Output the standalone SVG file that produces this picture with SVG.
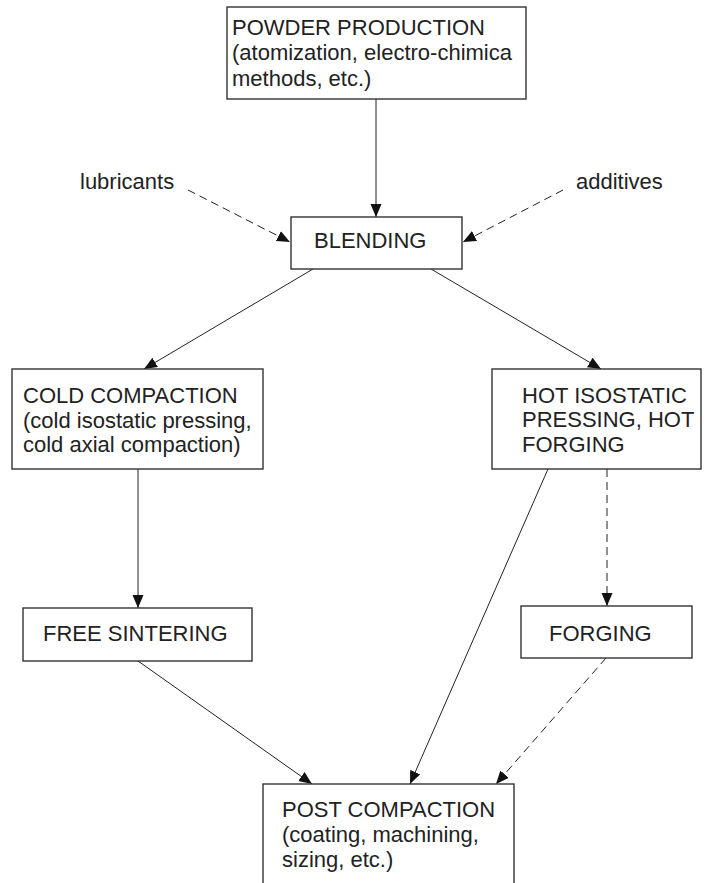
<svg xmlns="http://www.w3.org/2000/svg" width="710" height="883" viewBox="0 0 710 883">
<style>
.box{fill:#fff;stroke:#333;stroke-width:1.4}
.t{font-family:"Liberation Sans",Arial,sans-serif;font-size:22px;fill:#222}
.c{fill:none;stroke:#222;stroke-width:1}
.d{stroke-dasharray:8 5}
</style>
<defs>
<marker id="ah" markerUnits="userSpaceOnUse" markerWidth="14" markerHeight="12" refX="13" refY="5.5" orient="auto">
<path d="M0,0 L13,5.5 L0,11 z" fill="#111"/>
</marker>
</defs>
<rect width="710" height="883" fill="#fff"/>
<g id="connectors">
<line class="c" x1="376" y1="99" x2="376" y2="217" marker-end="url(#ah)"/>
<line class="c d" x1="188" y1="190" x2="290" y2="242" marker-end="url(#ah)"/>
<line class="c d" x1="563" y1="190" x2="463" y2="242" marker-end="url(#ah)"/>
<line class="c" x1="313" y1="269" x2="144" y2="369" marker-end="url(#ah)"/>
<line class="c" x1="431" y1="269" x2="601" y2="369" marker-end="url(#ah)"/>
<line class="c" x1="138" y1="469" x2="138" y2="608" marker-end="url(#ah)"/>
<line class="c d" x1="607" y1="469" x2="607" y2="606" marker-end="url(#ah)"/>
<line class="c" x1="138" y1="661" x2="312" y2="784" marker-end="url(#ah)"/>
<line class="c" x1="548" y1="469" x2="410" y2="784" marker-end="url(#ah)"/>
<line class="c d" x1="606" y1="658" x2="496" y2="784" marker-end="url(#ah)"/>
</g>
<g id="powder-production">
<rect class="box" x="227" y="7" width="299" height="92"/>
<text class="t" x="232" y="35">POWDER PRODUCTION</text>
<text class="t" x="232" y="60">(atomization, electro-chimica</text>
<text class="t" x="232" y="86">methods, etc.)</text>
</g>
<g id="lubricants">
<text class="t" x="80" y="189">lubricants</text>
</g>
<g id="additives">
<text class="t" x="576" y="189">additives</text>
</g>
<g id="blending">
<rect class="box" x="291" y="217" width="171" height="52"/>
<text class="t" x="314" y="248">BLENDING</text>
</g>
<g id="cold-compaction">
<rect class="box" x="12" y="369" width="251" height="100"/>
<text class="t" x="23" y="403">COLD COMPACTION</text>
<text class="t" x="23" y="428">(cold isostatic pressing,</text>
<text class="t" x="23" y="452">cold axial compaction)</text>
</g>
<g id="hot-isostatic">
<rect class="box" x="492" y="369" width="209" height="100"/>
<text class="t" x="522" y="403">HOT ISOSTATIC</text>
<text class="t" x="522" y="427">PRESSING, HOT</text>
<text class="t" x="522" y="452">FORGING</text>
</g>
<g id="free-sintering">
<rect class="box" x="23" y="608" width="229" height="53"/>
<text class="t" x="43" y="641">FREE SINTERING</text>
</g>
<g id="forging">
<rect class="box" x="521" y="606" width="171" height="52"/>
<text class="t" x="549" y="641">FORGING</text>
</g>
<g id="post-compaction">
<rect class="box" x="263" y="784" width="251" height="110"/>
<text class="t" x="282" y="817">POST COMPACTION</text>
<text class="t" x="282" y="842">(coating, machining,</text>
<text class="t" x="282" y="867">sizing, etc.)</text>
</g>
</svg>
